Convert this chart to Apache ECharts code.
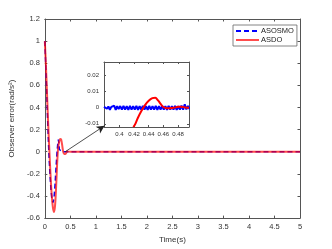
<!DOCTYPE html>
<html><head><meta charset="utf-8">
<script src="https://cdn.jsdelivr.net/npm/echarts@6/dist/echarts.min.js"></script>
<style>html,body{margin:0;padding:0;background:#fff}#c{width:332px;height:249px}</style>
</head><body><div id="c"></div>
<script>
// ---- data ----
const xTicksMain = [0, 0.5, 1, 1.5, 2, 2.5, 3, 3.5, 4, 4.5, 5];
const yTicksMain = [-0.6, -0.4, -0.2, 0, 0.2, 0.4, 0.6, 0.8, 1, 1.2];
const xTicksZoom = [0.4, 0.42, 0.44, 0.46, 0.48];
const yTicksZoom = [-0.01, 0, 0.01, 0.02];

const asdoT = [0,0.02,0.04,0.06,0.08,0.10,0.12,0.14,0.16,0.18,0.20,0.22,0.24,0.26,0.28,0.30,0.32,0.34,0.36,0.38,0.40,0.42,0.44,0.46,0.5,1,2,3,4,5];
const asdoV = [1,0.80,0.56,0.32,0.10,-0.10,-0.28,-0.42,-0.51,-0.545,-0.49,-0.33,-0.12,0.03,0.09,0.115,0.11,0.06,0.0,-0.02,-0.02,-0.01,0.004,0.001,0,0,0,0,0,0];

const asosmoT = [0,0.02,0.04,0.06,0.08,0.10,0.12,0.14,0.16,0.18,0.20,0.22,0.24,0.255,0.265,0.275,0.285,0.30,0.34,0.38,1,2,3,4,5];
const asosmoV = [1,0.76,0.5,0.22,-0.02,-0.2,-0.34,-0.43,-0.46,-0.42,-0.3,-0.14,0.0,0.08,0.11,0.08,0.02,0.003,0.001,0,0,0,0,0,0];

const zoomAsdoT = [0.419,0.4214,0.425,0.43,0.435,0.44,0.445,0.449,0.453,0.457,0.46,0.464,0.468,0.474,0.48,0.484,0.49,0.495];
const zoomAsdoV = [-0.012,-0.0104,-0.0066,-0.0022,0.0015,0.0042,0.0058,0.006,0.0042,0.0018,0.0003,-0.0004,-0.0005,-0.0002,0.0004,0.0005,0.0,-0.0002];

const zoomAsosmoT = [0.379,0.381,0.383,0.385,0.387,0.389,0.391,0.393,0.395,0.397,0.399,
  0.4012,0.4034,0.4056,0.4078,0.41,0.4122,0.4144,0.4166,0.4188,0.421,0.4232,0.4254,0.4276,0.4298,0.432,0.4342,
  0.4364,0.4386,0.4408,0.443,0.4452,0.4474,0.4496,0.4518,0.454,0.4562,0.4584,0.4606,0.4628,0.465,0.4672,0.4694,
  0.4716,0.4738,0.476,0.4782,0.4804,0.4826,0.4848,0.487,0.4892,0.4914,0.4936,0.4958];
const zoomAsosmoV = [0.0005,0.0014,-0.0008,0.0006,-0.0014,0.0004,-0.0006,0.0011,-0.0015,0.0008,-0.0010,
  0.0009,-0.0013,0.0010,-0.0013,0.0009,-0.0014,0.0010,-0.0013,0.0009,-0.0013,0.0010,-0.0014,0.0009,-0.0013,0.0010,-0.0013,
  0.0009,-0.0014,0.0010,-0.0013,0.0009,-0.0013,0.0010,-0.0014,0.0009,-0.0013,0.0010,-0.0013,0.0009,-0.0014,0.0010,-0.0013,
  0.0009,-0.0013,0.0010,-0.0014,0.0009,-0.0013,0.0011,-0.0013,0.0020,-0.0012,0.0010,-0.0010];

const arrowFrom = [0.4, 0];
const arrowTo = [1.17, 0.235];

const zip = (a, b) => a.map((v, i) => [v, b[i]]);
const AX = '#555';
const FONT = 'Liberation Sans';
const fmt = v => String(+(+v).toFixed(3));

function xAx(grid, min, max, ticks, pos, showLabels, fs, tl) {
  return {
    type: 'value', gridIndex: grid, min, max, position: pos,
    axisLine: {show: true, onZero: false, lineStyle: {color: AX, width: 1}},
    axisTick: {show: true, inside: true, length: tl, customValues: ticks, lineStyle: {color: AX}},
    axisLabel: {show: showLabels, customValues: ticks, formatter: fmt, color: '#333', fontSize: fs, fontFamily: FONT, margin: 4},
    splitLine: {show: false}
  };
}
function yAx(grid, min, max, ticks, pos, showLabels, fs, tl) {
  return {
    type: 'value', gridIndex: grid, min, max, position: pos,
    axisLine: {show: true, onZero: false, lineStyle: {color: AX, width: 1}},
    axisTick: {show: true, inside: true, length: tl, customValues: ticks, lineStyle: {color: AX}},
    axisLabel: {show: showLabels, customValues: ticks, formatter: fmt, color: '#333', fontSize: fs, fontFamily: FONT, margin: 5},
    splitLine: {show: false}
  };
}

const chart = echarts.init(document.getElementById('c'), null, {renderer: 'canvas'});
const xMain = xAx(0, 0, 5, xTicksMain, 'bottom', true, 7.5, 2.5);
xMain.name = 'Time(s)'; xMain.nameLocation = 'middle'; xMain.nameGap = 15;
xMain.nameTextStyle = {color: '#333', fontSize: 8, fontFamily: FONT};
xMain.axisLabel.margin = 5;
const yMain = yAx(0, -0.6, 1.2, yTicksMain, 'left', true, 7.5, 2.5);
yMain.name = 'Observer error(rad/s²)'; yMain.nameLocation = 'middle'; yMain.nameGap = 24;
yMain.nameTextStyle = {color: '#333', fontSize: 8, fontFamily: FONT};

chart.setOption({
  animation: false,
  backgroundColor: '#fff',
  grid: [
    {left: 43, top: 19, width: 257, height: 203, show: false},
    {left: 104, top: 62, width: 85, height: 65, show: true, backgroundColor: '#fff', borderWidth: 0}
  ],
  legend: {
    data: ['ASOSMO', 'ASDO'], orient: 'vertical', left: 233, top: 25,
    padding: [2, 3, 2, 2], itemGap: 1, itemWidth: 23, itemHeight: 8,
    itemStyle: {opacity: 0},
    backgroundColor: '#fff', borderColor: '#666', borderWidth: 0.8,
    textStyle: {fontSize: 7.5, color: '#222', fontFamily: FONT, padding: [0, 0, 0, -3]}
  },
  xAxis: [
    xMain,
    xAx(0, 0, 5, xTicksMain, 'top', false, 7.5, 2.5),
    xAx(1, 0.379, 0.495, xTicksZoom, 'bottom', true, 6, 2),
    xAx(1, 0.379, 0.495, xTicksZoom, 'top', false, 6, 2)
  ],
  yAxis: [
    yMain,
    yAx(0, -0.6, 1.2, yTicksMain, 'right', false, 7.5, 2.5),
    yAx(1, -0.012, 0.028, yTicksZoom, 'left', true, 6, 2),
    yAx(1, -0.012, 0.028, yTicksZoom, 'right', false, 6, 2)
  ],
  series: [
    {name: 'ASOSMO', type: 'line', xAxisIndex: 0, yAxisIndex: 0, data: zip(asosmoT, asosmoV),
      symbol: 'none', lineStyle: {color: '#0000ff', width: 1.5, type: [5, 3]}, itemStyle: {color: '#0000ff'}, z: 2},
    {name: 'ASDO', type: 'line', xAxisIndex: 0, yAxisIndex: 0, data: zip(asdoT, asdoV),
      symbol: 'none', smooth: 0.3, lineStyle: {color: '#ff0000', width: 2, opacity: 0.7}, itemStyle: {color: '#ff0000'}, z: 3,
      markLine: {silent: true, symbol: ['none', 'arrow'], symbolSize: [6, 8], label: {show: false},
        lineStyle: {color: '#222', width: 0.8, type: 'solid'},
        data: [[{coord: arrowFrom}, {coord: arrowTo}]]}},
    {name: 'ASOSMO', type: 'line', xAxisIndex: 2, yAxisIndex: 2, data: zip(zoomAsosmoT, zoomAsosmoV),
      symbol: 'none', lineStyle: {color: '#0000ff', width: 2}, itemStyle: {color: '#0000ff'}, z: 5, clip: true},
    {name: 'ASDO', type: 'line', xAxisIndex: 2, yAxisIndex: 2, data: zip(zoomAsdoT, zoomAsdoV),
      symbol: 'none', smooth: 0.3, lineStyle: {color: '#ff0000', width: 2}, itemStyle: {color: '#ff0000'}, z: 6, clip: true}
  ]
});
</script></body></html>
